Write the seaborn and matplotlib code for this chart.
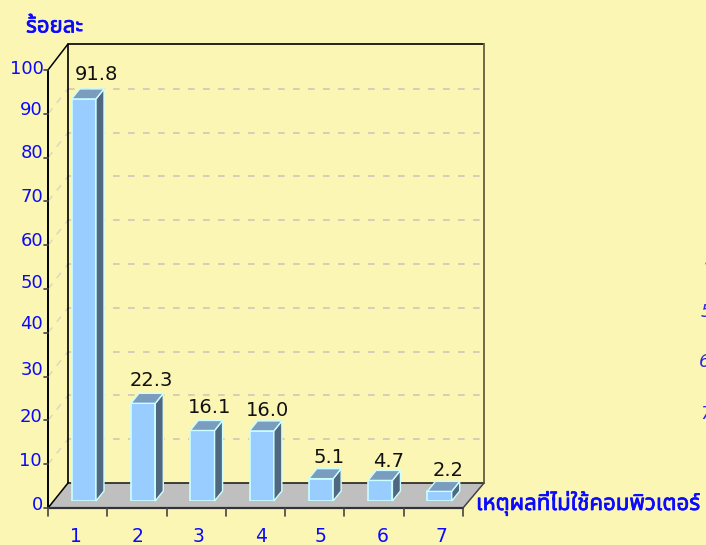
import numpy as np
import pandas as pd
import matplotlib
matplotlib.use("Agg")
import matplotlib.pyplot as plt
import matplotlib.patheffects as pe
from matplotlib.patches import Polygon
import seaborn as sns

# values
reasons = ["1", "2", "3", "4", "5", "6", "7"]
percent = [91.8, 22.3, 16.1, 16.0, 5.1, 4.7, 2.2]
value_labels = ["91.8", "22.3", "16.1", "16.0", "5.1", "4.7", "2.2"]
y_ticks = [0, 10, 20, 30, 40, 50, 60, 70, 80, 90, 100]
y_title = "ร้อยละ"
x_title = "เหตุผลที่ไม่ใช้คอมพิวเตอร์"
cut_off_labels = ["4", "5", "6", "7"]

W, H = 706, 545
BG = "#FCF6B5"
BLUE = "#0A0AFF"
THAI = ["Noto Sans Thai", "Noto Sans", "Tahoma", "Loma", "Garuda", "DejaVu Sans"]

sns.set_theme(style="white")
plt.rcParams["font.family"] = ["DejaVu Sans"]

fig = plt.figure(figsize=(W / 100, H / 100), dpi=100, facecolor=BG)

# frame layer in image pixels
bg = fig.add_axes([0, 0, 1, 1], zorder=0)
bg.set_xlim(0, W)
bg.set_ylim(H, 0)
bg.axis("off")

PX = 4.38  # pixels per percent
y0 = 508
for v in y_ticks[1:-1]:
    yy = y0 - PX * v
    bg.plot([68, 484], [yy - 25, yy - 25], color="#CDC9B8", lw=1.2, dashes=(4, 5))
    bg.plot([48, 68], [yy, yy - 25], color="#DAD6BE", lw=1, dashes=(5, 5))
bg.add_patch(Polygon([(48, 508), (68, 483), (484, 483), (463, 508)], fc="#BFBFBF", ec="none"))
bg.plot([68, 484], [483, 483], color="#222222", lw=1.2)
bg.plot([68, 68, 484], [483, 44, 44], color="black", lw=1.2)
bg.plot([484, 484], [44, 483], color="#6E6A45", lw=1.4)
bg.plot([48, 68], [70, 44], color="black", lw=1.1)
bg.plot([48, 48], [70, 508], color="black", lw=1.4)
bg.plot([48, 68], [508, 483], color="black", lw=1.1)
bg.plot([463, 484], [508, 483], color="#444444", lw=1.1)
bg.plot([48, 463], [508, 508], color="#333333", lw=1.6)
for xx in np.linspace(48, 463, 8):
    bg.plot([xx, xx], [508, 516], color="#444444", lw=1.2)
for v in y_ticks:
    bg.plot([44, 48], [y0 - PX * v] * 2, color="#444444", lw=1.2)

# bars sit on their own plane a little behind the front edge
left, right, base = 54.2, 469.2, 501
ax = fig.add_axes([left / W, 1 - base / H, (right - left) / W, PX * 100 / H], zorder=2)
ax.patch.set_alpha(0)
df = pd.DataFrame({"reason": reasons, "percent": percent})
sns.barplot(data=df, x="reason", y="percent", ax=ax, width=0.41, color="#9ACDFF",
            saturation=1, edgecolor="#CCFFFF", linewidth=1.2)
ax.set_xlim(-0.5, 6.5)
ax.set_ylim(0, 100)
ax.axis("off")

# side and top faces from the drawn bars
dx = 8 / ((right - left) / 7)
dy = 10 / PX
for p in ax.patches[:len(reasons)]:
    x1, w, h = p.get_x(), p.get_width(), p.get_height()
    x2 = x1 + w
    ax.add_patch(Polygon([(x2, 0), (x2 + dx, dy), (x2 + dx, h + dy), (x2, h)], fc="#4F6880",
                         ec="#CCFFFF", lw=1, clip_on=False))
    ax.add_patch(Polygon([(x1, h), (x1 + dx, h + dy), (x2 + dx, h + dy), (x2, h)], fc="#7A9CBF",
                         ec="#CCFFFF", lw=1, clip_on=False))

# value labels
lab_dx = [13, 8, 7, 6, 8, 8.5, 8.5]
lab_dy = [24, 23, 23, 20, 21, 19, 21]
for i, (val, txt) in enumerate(zip(percent, value_labels)):
    ax.annotate(txt, (i, val), xytext=(lab_dx[i] * 0.72, lab_dy[i] * 0.72), textcoords="offset points",
                ha="center", va="center", fontsize=14, color="#111111", annotation_clip=False)

# axis labels, hand placed in the original so they drift a little
y_lab_x = [43, 42, 42, 43, 43, 43, 43, 43, 43, 43, 44]
y_lab_nudge = [0, -1, -1, -4, -6, -4, -2, -2, -2, -1, 2]
for v, xx, nudge in zip(y_ticks, y_lab_x, y_lab_nudge):
    bg.text(xx, y0 - PX * v - 2.5 + nudge, str(v), ha="right", va="center", color=BLUE, fontsize=13)
x_lab_x = [76, 138, 199, 261, 320, 383, 441]
for r, xx in zip(reasons, x_lab_x):
    bg.text(xx, 537, r, ha="center", va="center", color=BLUE, fontsize=13.5)

# no bold Thai face here, a thin stroke thickens it
bold = [pe.withStroke(linewidth=0.5, foreground=BLUE)]
bg.text(26, 27, y_title, ha="left", va="center", color=BLUE, fontsize=16, family=THAI, path_effects=bold)
bg.text(476, 503, x_title, ha="left", va="center", color=BLUE, fontsize=16, family=THAI, path_effects=bold)

# labels of a legend that runs off the right edge
for txt, xx, yy in zip(cut_off_labels, [705, 701, 699, 700], [262, 312, 362, 414]):
    bg.text(xx, yy, txt, ha="left", va="center", color="#2A2AE0", fontsize=13, style="italic", clip_on=False)

fig.savefig("out.png", dpi=100, facecolor=BG)
